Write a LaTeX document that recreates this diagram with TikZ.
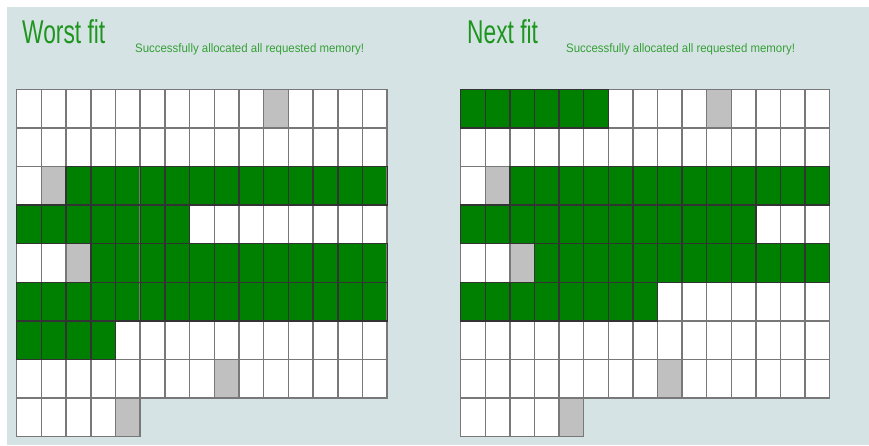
\documentclass[tikz,border=0pt]{standalone}
\usepackage{graphicx}
\usepackage{fontspec}
\setmainfont{Liberation Sans}
\definecolor{bg}{RGB}{214,227,229}
\definecolor{ttl}{RGB}{30,150,30}
\definecolor{cg}{RGB}{0,128,0}
\definecolor{ck}{RGB}{192,192,192}
\definecolor{gl}{RGB}{120,120,120}
\tikzset{
  aW/.style={fill=white,draw=gl,line width=1.5pt},
  aK/.style={fill=ck,draw=gl,line width=1.5pt},
  aG/.style={fill=cg,draw=gl,line width=1.5pt},
  bW/.style={},
  bK/.style={},
  bG/.style={draw=black!80,line width=1.4pt},
  ttlstyle/.style={anchor=base west,inner sep=0pt,text=ttl,font=\fontsize{33}{40}\selectfont},
  substyle/.style={anchor=base west,inner sep=0pt,text=ttl!90!white,font=\fontsize{12.3}{14}\selectfont}
}
\newcommand\memgrid[4]{% x0, w, rows, pass prefix
  \foreach \row [count=\r from 0] in #3 {
    \foreach \c [count=\i from 0] in \row {
      \path[#4\c] ({#1+\i*#2},{89.3+\r*38.6}) rectangle ++(#2,38.6);
    }
  }
}
\def\leftrows{{W,W,W,W,W,W,W,W,W,W,K,W,W,W,W},
{W,W,W,W,W,W,W,W,W,W,W,W,W,W,W},
{W,K,G,G,G,G,G,G,G,G,G,G,G,G,G},
{G,G,G,G,G,G,G,W,W,W,W,W,W,W,W},
{W,W,K,G,G,G,G,G,G,G,G,G,G,G,G},
{G,G,G,G,G,G,G,G,G,G,G,G,G,G,G},
{G,G,G,G,W,W,W,W,W,W,W,W,W,W,W},
{W,W,W,W,W,W,W,W,K,W,W,W,W,W,W},
{W,W,W,W,K}}
\def\rightrows{{G,G,G,G,G,G,W,W,W,W,K,W,W,W,W},
{W,W,W,W,W,W,W,W,W,W,W,W,W,W,W},
{W,K,G,G,G,G,G,G,G,G,G,G,G,G,G},
{G,G,G,G,G,G,G,G,G,G,G,G,W,W,W},
{W,W,K,G,G,G,G,G,G,G,G,G,G,G,G},
{G,G,G,G,G,G,G,G,W,W,W,W,W,W,W},
{W,W,W,W,W,W,W,W,W,W,W,W,W,W,W},
{W,W,W,W,W,W,W,W,K,W,W,W,W,W,W},
{W,W,W,W,K}}
\begin{document}
\begin{tikzpicture}[x=1pt,y=-1pt]
\path[use as bounding box] (0,0) rectangle (869,445);
\fill[white] (0,0) rectangle (869,445);
\fill[bg] (7,7) rectangle (869,445);
\memgrid{16.7}{24.7}{\leftrows}{a}
\memgrid{16.7}{24.7}{\leftrows}{b}
\memgrid{460.7}{24.6}{\rightrows}{a}
\memgrid{460.7}{24.6}{\rightrows}{b}
\node[ttlstyle] (t1) at (22,43) {\scalebox{0.69}[1]{Worst fit}};
\node[substyle] (s1) at (135,52) {\scalebox{0.93}[1]{Successfully allocated all requested memory!}};
\node[ttlstyle] (t2) at (467,43) {\scalebox{0.69}[1]{Next fit}};
\node[substyle] (s2) at (566,52) {\scalebox{0.93}[1]{Successfully allocated all requested memory!}};
\end{tikzpicture}
\end{document}
